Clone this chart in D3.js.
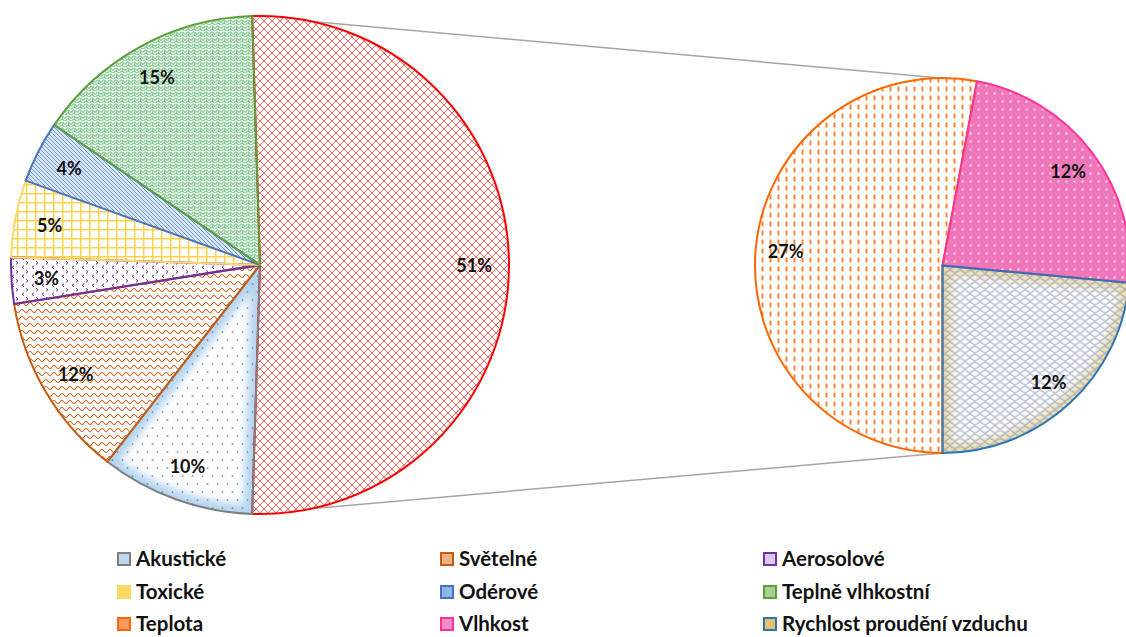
<!DOCTYPE html>
<html>
<head>
<meta charset="utf-8">
<script src="https://cdn.jsdelivr.net/npm/d3@7"></script>
<style>
  body { margin: 0; background: #fff; }
  svg { display: block; font-family: Lato, "Open Sans", sans-serif; }
</style>
</head>
<body>
<svg id="chart" width="1126" height="637"></svg>
<script>
// main pie categories (clockwise after the "other" slice)
const mainCategories = ['Akustické', 'Světelné', 'Aerosolové', 'Toxické', 'Odérové', 'Teplně vlhkostní'];
const mainValues     = [10, 12, 3, 5, 4, 15];

// secondary pie (split out of the main pie)
const subCategories = ['Teplota', 'Vlhkost', 'Rychlost proudění vzduchu'];
const subValues     = [27, 12, 12];

// legend order, three columns
const legendOrder = ['Akustické', 'Světelné', 'Aerosolové',
                     'Toxické', 'Odérové', 'Teplně vlhkostní',
                     'Teplota', 'Vlhkost', 'Rychlost proudění vzduchu'];

(function() {
  'use strict';

  const OTHER = 'other';

  // look of every slice: outline, legend swatch colour, optional inner glow
  const looks = {
    [OTHER]:                      { line: '#ff0000', swatch: '#ff8080' },
    'Akustické':                  { line: '#7f7f7f', swatch: '#bdd7ee', glow: '#b4d4f0' },
    'Světelné':                   { line: '#c55a11', swatch: '#f4b183' },
    'Aerosolové':                 { line: '#7030a0', swatch: '#dcc8ec' },
    'Toxické':                    { line: '#ffd966', swatch: '#ffd966' },
    'Odérové':                    { line: '#4472c4', swatch: '#8fb3e3' },
    'Teplně vlhkostní':           { line: '#5f9e3c', swatch: '#a9d18e' },
    'Teplota':                    { line: '#ff6600', swatch: '#f79b63' },
    'Vlhkost':                    { line: '#ff3399', swatch: '#f28cc4' },
    'Rychlost proudění vzduchu':  { line: '#2e75b6', swatch: '#e3c66e', glow: '#ecdcae' }
  };

  const svg = d3.select('#chart'),
        defs = svg.append('defs');

  const slug = name => 'p' + Math.abs([...name].reduce((h, c) => (h * 31 + c.charCodeAt(0)) | 0, 7));

  /**
   * Fill patterns, roughly the Excel ones
   */
  const pattern = (name, w, h, draw) => {
    const p = defs.append('pattern')
      .attr('id', slug(name))
      .attr('patternUnits', 'userSpaceOnUse')
      .attr('width', w)
      .attr('height', h);
    draw(p);
  };

  pattern(OTHER, 8, 8, p => {
    p.append('path').attr('d', 'M0,0L8,8M8,0L0,8')
      .attr('stroke', '#ff4a4a').attr('stroke-width', 0.85).attr('fill', 'none');
  });
  pattern('Akustické', 10, 16, p => {
    p.append('circle').attr('cx', 2.5).attr('cy', 3).attr('r', 0.85).attr('fill', '#777');
    p.append('circle').attr('cx', 7.5).attr('cy', 11).attr('r', 0.85).attr('fill', '#777');
  });
  pattern('Světelné', 8, 7, p => {
    p.append('path').attr('d', 'M0,4 Q2,1 4,4 T8,4')
      .attr('stroke', '#d0611c').attr('stroke-width', 1.1).attr('fill', 'none');
  });
  pattern('Aerosolové', 10, 9, p => {
    p.append('path').attr('d', 'M4,0.8 L2,2.3 L4,3.8 M6,5.3 L8,6.8 L6,8.3')
      .attr('stroke', '#7030a0').attr('stroke-width', 1).attr('fill', 'none');
  });
  pattern('Toxické', 9, 9, p => {
    p.append('path').attr('d', 'M0,0.75H9M0.75,0V9')
      .attr('stroke', '#ffd24a').attr('stroke-width', 1.5).attr('fill', 'none');
  });
  pattern('Odérové', 4, 4, p => {
    p.append('rect').attr('width', 4).attr('height', 4).attr('fill', '#dce8f7');
    p.append('path').attr('d', 'M0,0L4,4M-1,3L1,5M3,-1L5,1')
      .attr('stroke', '#5a88d2').attr('stroke-width', 0.9).attr('fill', 'none');
  });
  pattern('Teplně vlhkostní', 6, 6, p => {
    p.append('rect').attr('width', 6).attr('height', 6).attr('fill', '#eef8ee');
    p.append('path').attr('d', 'M0,0.5L3,3.5L6,0.5M0,3.5L3,6.5L6,3.5M0,2V5')
      .attr('stroke', '#46b05c').attr('stroke-width', 1).attr('fill', 'none');
  });
  pattern('Teplota', 8, 9, p => {
    p.append('path').attr('d', 'M4,1V6')
      .attr('stroke', '#ff6600').attr('stroke-width', 1.6).attr('fill', 'none');
  });
  pattern('Vlhkost', 8, 8, p => {
    p.append('rect').attr('width', 8).attr('height', 8).attr('fill', '#ec5aab');
    p.append('path').attr('d', 'M0,1H8M0,3H8M0,5H8M0,7H8M1,0V8M3,0V8M5,0V8M7,0V8')
      .attr('stroke', '#fff').attr('stroke-opacity', 0.3).attr('stroke-width', 0.6);
    p.append('circle').attr('cx', 4).attr('cy', 4).attr('r', 1).attr('fill', '#fff');
  });
  pattern('Rychlost proudění vzduchu', 10, 8, p => {
    p.append('path').attr('d', 'M0,2 Q2.5,-1 5,2 T10,2 M0,6 Q2.5,9 5,6 T10,6')
      .attr('stroke', '#7f90b5').attr('stroke-width', 1).attr('fill', 'none');
  });

  const blur = defs.append('filter').attr('id', 'glow')
    .attr('x', '-20%').attr('y', '-20%').attr('width', '140%').attr('height', '140%');
  blur.append('feGaussianBlur').attr('stdDeviation', 4);

  const pct = d3.format('.0%'),
        total = d3.sum(mainValues) + d3.sum(subValues),
        otherValue = d3.sum(subValues);

  /**
   * Draw one pie
   */
  const drawPie = (cx, cy, r, slices, labelR) => {
    const g = svg.append('g').attr('transform', `translate(${cx},${cy})`),
          arc = d3.arc().innerRadius(0).outerRadius(r),
          labelArc = d3.arc().innerRadius(labelR).outerRadius(labelR);

    slices.forEach((d, i) => {
      const name = d.data.name,
            look = looks[name],
            path = arc(d);

      g.append('path').attr('d', path).attr('fill', '#fff');

      if (look.glow) {
        const cid = 'clip' + Math.round(cx) + '_' + i;
        g.append('clipPath').attr('id', cid).append('path').attr('d', path);
        g.append('path').attr('d', path)
          .attr('fill', 'none')
          .attr('stroke', look.glow)
          .attr('stroke-width', 18)
          .attr('filter', 'url(#glow)')
          .attr('clip-path', `url(#${cid})`);
      }

      g.append('path').attr('d', path).attr('fill', `url(#${slug(name)})`);
    });

    // outlines on top
    slices.forEach(d => {
      g.append('path').attr('d', arc(d))
        .attr('fill', 'none')
        .attr('stroke', looks[d.data.name].line)
        .attr('stroke-width', 2)
        .attr('stroke-linejoin', 'round');
    });

    slices.forEach(d => {
      const [x, y] = labelArc.centroid(d);
      g.append('text')
        .attr('x', x).attr('y', y)
        .attr('text-anchor', 'middle')
        .attr('dominant-baseline', 'central')
        .attr('font-size', 18)
        .attr('font-weight', 700)
        .attr('fill', '#111')
        .text(pct(d.data.value / total));
    });
  };

  const pointAt = (cx, cy, r, a) => [cx + r * Math.sin(a), cy - r * Math.cos(a)];

  // main pie: the "other" slice is centred on the right side
  const main = { cx: 260, cy: 265, r: 249 },
        sub  = { cx: 942.5, cy: 265.5, r: 187.5 },
        otherSpan = otherValue / total * 2 * Math.PI,
        mainStart = Math.PI / 2 - otherSpan / 2;

  const mainSlices = d3.pie().sort(null).value(d => d.value)
    .startAngle(mainStart).endAngle(mainStart + 2 * Math.PI)(
      [{ name: OTHER, value: otherValue }]
        .concat(mainCategories.map((c, i) => ({ name: c, value: mainValues[i] })))
    );

  const subSlices = d3.pie().sort(null).value(d => d.value)
    .startAngle(Math.PI).endAngle(3 * Math.PI)(
      subCategories.map((c, i) => ({ name: c, value: subValues[i] }))
    );

  // connector lines
  const otherSlice = mainSlices[0],
        topA = pointAt(main.cx, main.cy, main.r, otherSlice.startAngle),
        botA = pointAt(main.cx, main.cy, main.r, otherSlice.endAngle),
        topB = pointAt(sub.cx, sub.cy, sub.r, subSlices[0].endAngle),
        botB = pointAt(sub.cx, sub.cy, sub.r, subSlices[0].startAngle);

  svg.append('path')
    .attr('d', `M${topA}L${topB}M${botA}L${botB}`)
    .attr('stroke', '#a6a6a6')
    .attr('stroke-width', 1.5)
    .attr('fill', 'none');

  drawPie(main.cx, main.cy, main.r, mainSlices, main.r * 0.86);
  drawPie(sub.cx, sub.cy, sub.r, subSlices, sub.r * 0.84);

  // legend
  const colX = [117, 440, 763],
        rowY = [559, 592, 624],
        legend = svg.append('g');

  legendOrder.forEach((name, i) => {
    const x = colX[i % 3],
          y = rowY[Math.floor(i / 3)],
          look = looks[name];

    legend.append('rect')
      .attr('x', x + 1).attr('y', y - 6)
      .attr('width', 12).attr('height', 12)
      .attr('fill', look.swatch)
      .attr('stroke', look.line)
      .attr('stroke-width', 2);

    legend.append('text')
      .attr('x', x + 19).attr('y', y + 7)
      .attr('font-size', 20.5)
      .attr('font-weight', 700)
      .attr('fill', '#111')
      .text(name);
  });
})();
</script>
</body>
</html>
